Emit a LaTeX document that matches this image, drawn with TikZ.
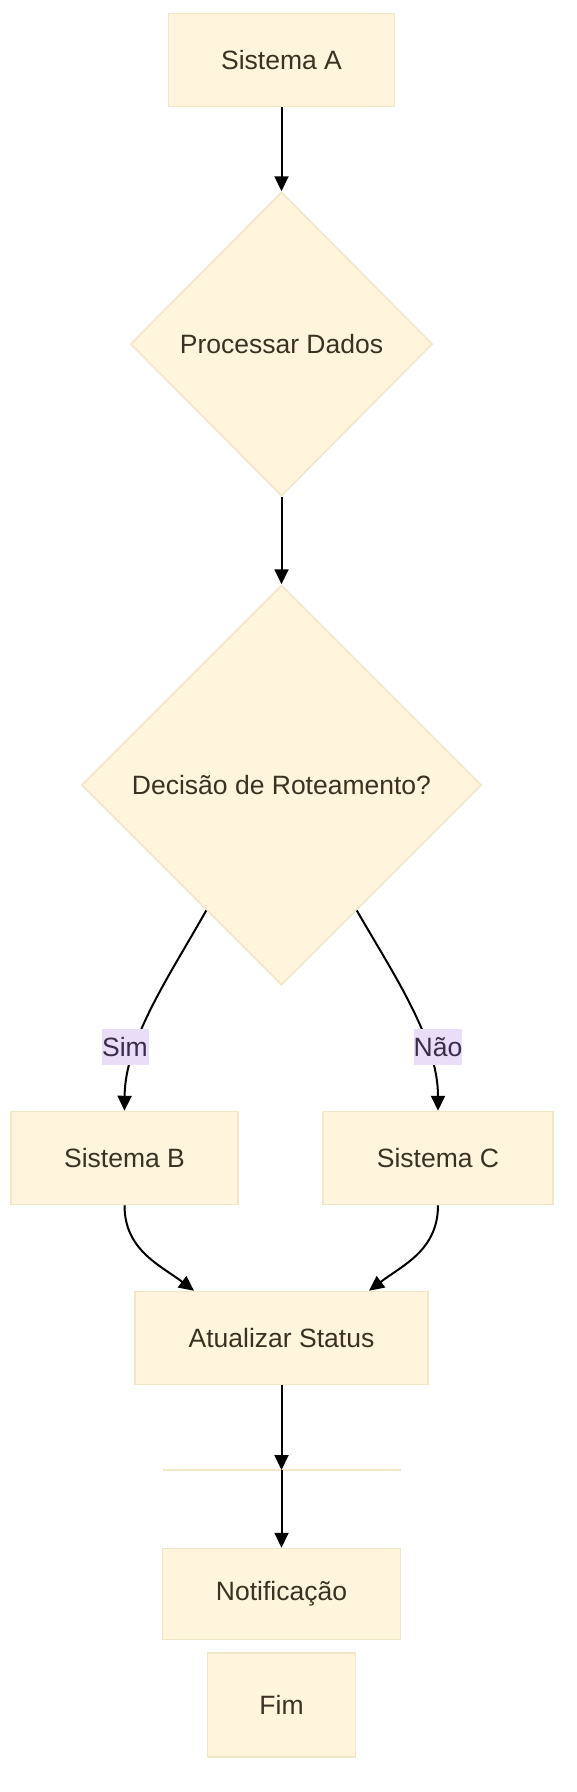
\documentclass[tikz,border=0pt]{standalone}
\usepackage{fontspec}
\setmainfont{Liberation Sans}
\usetikzlibrary{shapes.geometric,arrows.meta,calc}
\definecolor{boxfill}{HTML}{FFF4DC}
\definecolor{boxline}{HTML}{F1E6C6}
\definecolor{boxtext}{HTML}{3A3122}
\definecolor{lblfill}{HTML}{E9DDF8}
\definecolor{lbltext}{HTML}{3B2C4E}
\tikzset{
  sysbox/.style={rectangle,draw=boxline,fill=boxfill,line width=1.5pt,text=boxtext,
    font=\fontsize{26.5}{32}\selectfont,inner sep=0pt},
  decbox/.style={diamond,draw=boxline,fill=boxfill,line width=1.5pt,text=boxtext,
    font=\fontsize{26.5}{32}\selectfont,inner sep=0pt},
  edgelbl/.style={rectangle,fill=lblfill,text=lbltext,font=\fontsize{26.5}{32}\selectfont,
    inner sep=0pt,minimum width=47pt,minimum height=36pt},
  flow/.style={-{Triangle[length=15pt,width=14pt]},line width=2pt,black}
}

\begin{document}
\begin{tikzpicture}[x=1pt,y=-1pt]
\useasboundingbox (0,0) rectangle (576,1792);
\fill[white] (0,0) rectangle (576,1792);

% boxes
\node[sysbox,minimum width=226pt,minimum height=93pt] (sisA) at (281.5,60) {Sistema A};
\node[decbox,minimum width=302pt,minimum height=304pt] (proc) at (281.5,344) {Processar Dados};
\node[decbox,minimum width=400pt,minimum height=400pt] (dec) at (281.5,785) {Decisão de Roteamento?};
\node[sysbox,minimum width=227pt,minimum height=93pt] (sisB) at (124.5,1158) {Sistema B};
\node[sysbox,minimum width=230pt,minimum height=93pt] (sisC) at (438,1158) {Sistema C};
\node[sysbox,minimum width=293pt,minimum height=93pt] (upd) at (281.5,1338) {Atualizar Status};
\node[rectangle,fill=boxline,inner sep=0pt,minimum width=238pt,minimum height=2pt] (blank) at (281.5,1470) {};
\node[sysbox,minimum width=238pt,minimum height=91pt] (notif) at (281.5,1594) {Notificação};
\node[sysbox,minimum width=148pt,minimum height=104pt] (fim) at (281.5,1705) {Fim};

% straight arrows
\draw[flow] (sisA.south) -- (proc.north);
\draw[flow] (proc.south) -- (dec.north);
\draw[flow] (upd.south) -- (blank.center);
\draw[flow] (blank.center) -- (notif.north);

% branches
\coordinate (decSW) at ($(dec.west)!0.625!(dec.south)$);
\coordinate (decSE) at ($(dec.east)!0.625!(dec.south)$);
\draw[flow] (decSW) .. controls (170,975) and (125,1040) .. (sisB.north);
\draw[flow] (decSE) .. controls (394,975) and (438,1040) .. (sisC.north);
\node[edgelbl] (sim) at (125,1047) {Sim};
\node[edgelbl] (nao) at (438,1047) {Não};

% merge
\coordinate (updL) at ($(upd.north)+(-87.5,0)$);
\coordinate (updR) at ($(upd.north)+(87.5,0)$);
\draw[flow] (sisB.south) .. controls (124.5,1250) and (160,1265) .. (updL);
\draw[flow] (sisC.south) .. controls (438,1250) and (403,1265) .. (updR);

\end{tikzpicture}
\end{document}
